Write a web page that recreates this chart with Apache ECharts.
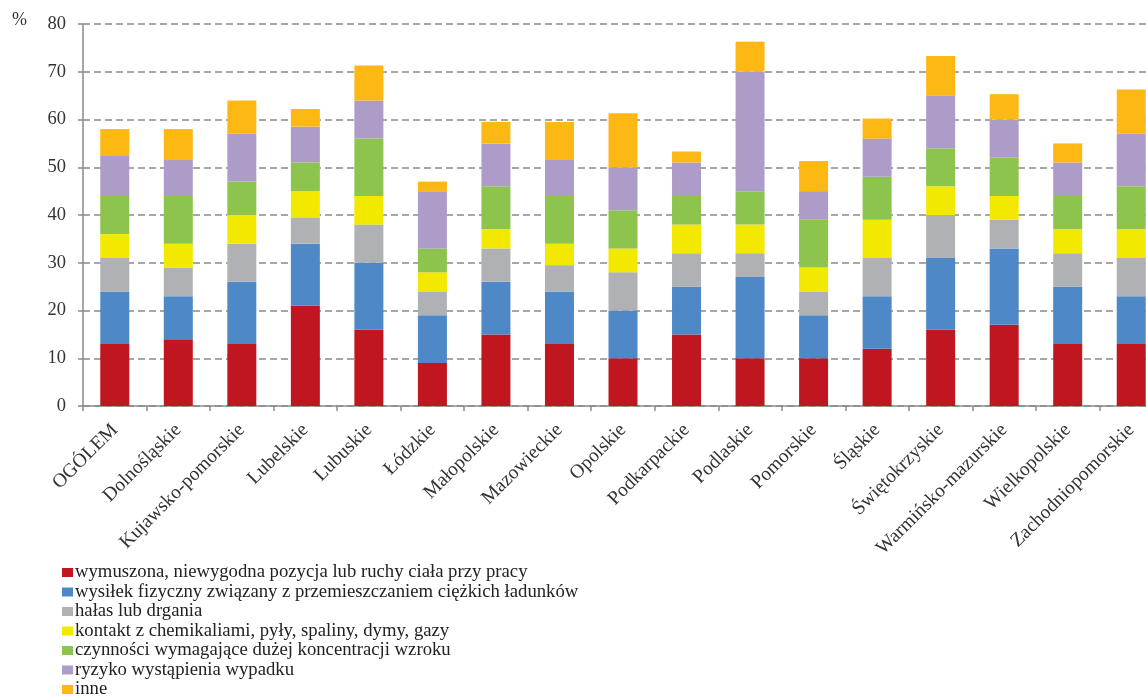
<!DOCTYPE html>
<html>
<head>
<meta charset="utf-8">
<script src="https://cdn.jsdelivr.net/npm/echarts@6/dist/echarts.min.js"></script>
<style>html,body{margin:0;padding:0;background:#fff}#c{width:1146px;height:698px}</style>
</head>
<body>
<div id="c"></div>
<script>
const categories = ["OGÓLEM","Dolnośląskie","Kujawsko-pomorskie","Lubelskie","Lubuskie","Łódzkie","Małopolskie","Mazowieckie","Opolskie","Podkarpackie","Podlaskie","Pomorskie","Śląskie","Świętokrzyskie","Warmińsko-mazurskie","Wielkopolskie","Zachodniopomorskie"];
const seriesNames = ["wymuszona, niewygodna pozycja lub ruchy ciała przy pracy","wysiłek fizyczny związany z przemieszczaniem ciężkich ładunków","hałas lub drgania","kontakt z chemikaliami, pyły, spaliny, dymy, gazy","czynności wymagające dużej koncentracji wzroku","ryzyko wystąpienia wypadku","inne"];
const pozycja     = [13, 14, 13, 21, 16,  9, 15, 13, 10, 15, 10, 10, 12, 16, 17, 13, 13];
const wysilek     = [11,  9, 13, 13, 14, 10, 11, 11, 10, 10, 17,  9, 11, 15, 16, 12, 10];
const halas       = [ 7,  6,  8, 5.5, 8,  5,  7, 5.5, 8,  7,  5,  5,  8,  9,  6,  7,  8];
const chemikalia  = [ 5,  5,  6, 5.5, 6,  4,  4, 4.5, 5,  6,  6,  5,  8,  6,  5,  5,  6];
const wzrok       = [ 8, 10,  7,  6, 12,  5,  9, 10,  8,  6,  7, 10,  9,  8,  8,  7,  9];
const wypadek     = [8.5, 7.5, 10, 7.5, 8, 12, 9, 7.5, 9, 7, 25,  6,  8, 11,  8,  7, 11];
const inne        = [5.5, 6.5, 7, 3.7, 7.3, 2, 4.5, 8, 11.3, 2.3, 6.3, 6.3, 4.2, 8.3, 5.3, 4, 9.3];
const yTicks = [0,10,20,30,40,50,60,70,80];

const colors = ["#C0161F","#4F88C6","#AFB1B4","#F3E800","#8DC44E","#AE9CC8","#FDB813"];
const dataArrays = [pozycja, wysilek, halas, chemikalia, wzrok, wypadek, inne];
const serif = '"Liberation Serif","DejaVu Serif",serif';

const chart = echarts.init(document.getElementById('c'), null, {renderer:'canvas'});
chart.setOption({
  animation:false,
  backgroundColor:'#fff',
  color: colors,
  textStyle:{fontFamily:serif},
  grid:{left:83, width:1080, top:24, height:382, containLabel:false, outerBoundsMode:'none'},
  graphic:[{type:'text', left:12, top:11, style:{text:'%', font:'18px "Liberation Serif", serif', fill:'#333'}}],
  legend:{
    orient:'vertical', left:62, top:563, height:300, padding:0,
    itemWidth:11, itemHeight:9, itemGap:0.5,
    icon:'rect',
    textStyle:{fontSize:18.7, lineHeight:18, color:'#222', fontFamily:serif, padding:[0,0,0,-3]},
    data: seriesNames
  },
  xAxis:{
    type:'category', data:categories,
    axisLine:{lineStyle:{color:'#8a8a8a', width:1.5}},
    axisTick:{show:true, length:5, lineStyle:{color:'#8a8a8a', width:1.5}},
    axisLabel:{rotate:45, fontSize:19.5, color:'#333', margin:21, interval:0, fontFamily:serif}
  },
  yAxis:{
    type:'value', min:yTicks[0], max:yTicks[yTicks.length-1], interval:10,
    axisLine:{show:true, lineStyle:{color:'#8a8a8a', width:1.5}},
    axisTick:{show:true, length:5, inside:false, lineStyle:{color:'#8a8a8a', width:1.5}},
    axisLabel:{fontSize:18.5, color:'#333', margin:17, fontFamily:serif},
    splitLine:{show:true, lineStyle:{color:'#8a8a8a', width:1.5, type:[7,4]}}
  },
  series: seriesNames.map((n,i)=>({
    name:n, type:'bar', stack:'total', barWidth:29,
    itemStyle:{color:colors[i]},
    data:dataArrays[i]
  }))
});
</script>
</body>
</html>
